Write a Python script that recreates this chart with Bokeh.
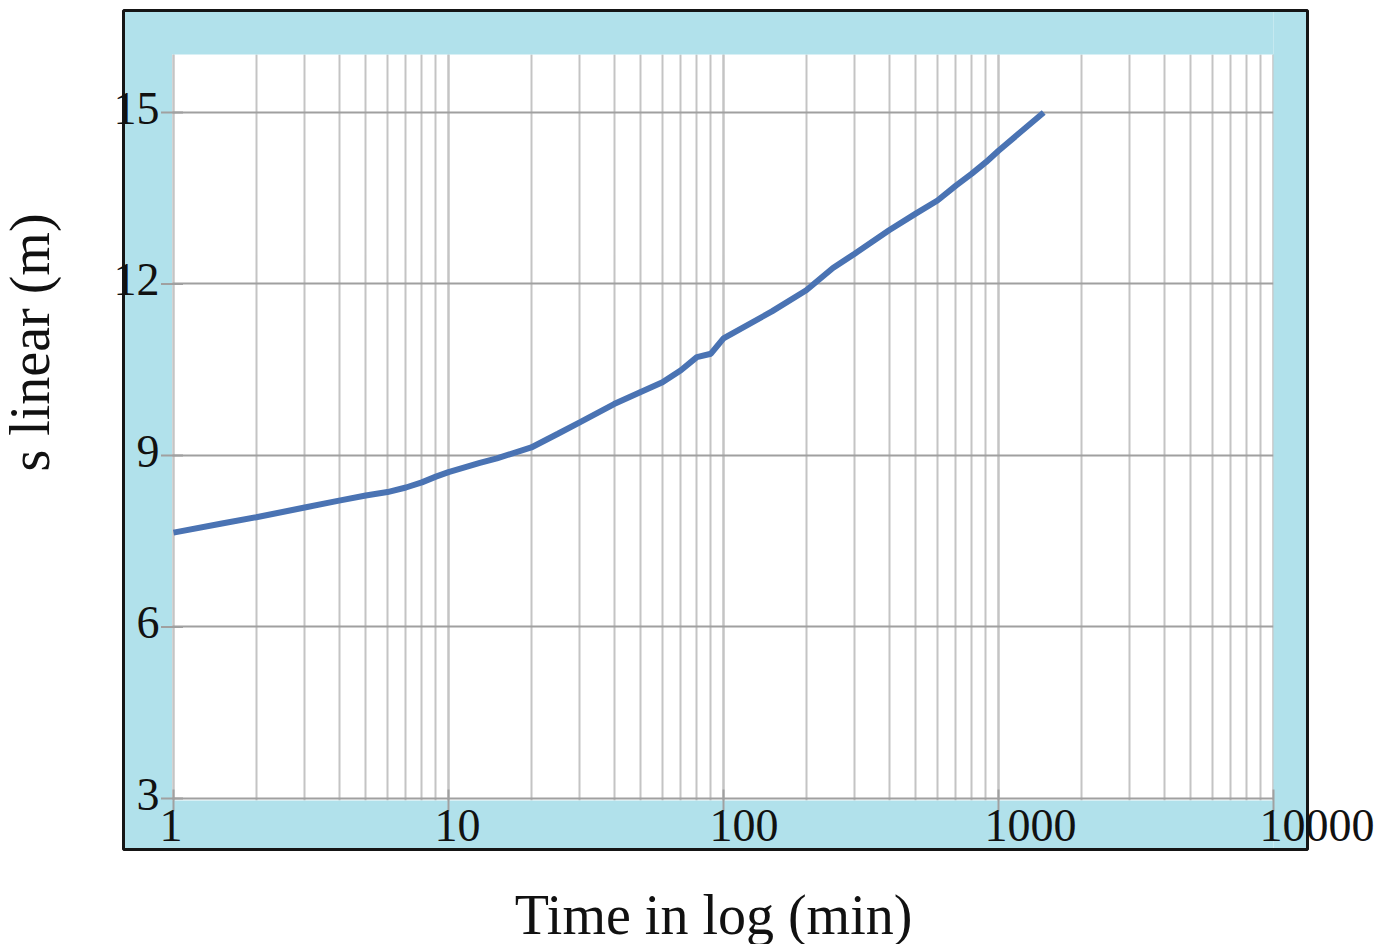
import math
from bokeh.plotting import figure
from bokeh.models import ColumnDataSource, Grid, LogTicker, FixedTicker, Range1d, LogScale
from bokeh.embed import file_html
from bokeh.resources import INLINE
from bokeh.core.properties import value

# ---------------- data ----------------
time_min = [1, 1.5, 2, 3, 4, 5, 6, 7, 8, 9, 10, 13, 15, 20, 25, 30, 40, 50,
            60, 70, 80, 90, 100, 150, 200, 250, 300, 400, 500, 600, 700, 800,
            900, 1000, 1460]
s_linear = [7.65, 7.81, 7.92, 8.09, 8.21, 8.30, 8.36, 8.44, 8.53, 8.63, 8.71,
            8.87, 8.95, 9.14, 9.38, 9.58, 9.90, 10.11, 10.28, 10.49, 10.72,
            10.78, 11.05, 11.52, 11.89, 12.28, 12.53, 12.94, 13.23, 13.46,
            13.72, 13.93, 14.13, 14.33, 15.0]

x_ticks = [1, 10, 100, 1000, 10000]
x_tick_labels = ["1", "10", "100", "1000", "10000"]
y_ticks = [3, 6, 9, 12, 15]
y_tick_labels = ["3", "6", "9", "12", "15"]

x_title = "Time in log (min)"
y_title = "s linear (m)"

# ---------------- layout calibration (canvas pixels) ----------------
PX_X1 = 173.0        # canvas x of t = 1
PX_DECADE = 275.0    # pixels per decade
PX_Y3 = 798.0        # canvas y of s = 3
PX_UNIT = 57.17      # pixels per metre


def xval(px):
    return 10 ** ((px - PX_X1) / PX_DECADE)


def yval(py):
    return 3 + (PX_Y3 - py) / PX_UNIT


W, H = 1394, 944
OUT_L, OUT_R, OUT_T, OUT_B = 123, 1307, 10, 849     # outer (black) frame
IN_L, IN_R, IN_T, IN_B = 171.5, 1273, 54, 800       # inner white area

cx0, cx1 = xval(0), xval(W)
cy0, cy1 = yval(H), yval(0)
# slightly beyond the canvas, so nothing peeks through at the edges
ex0, ex1 = xval(-20), xval(W + 20)
ey0, ey1 = yval(H + 20), yval(-20)
ox0, ox1 = xval(OUT_L), xval(OUT_R)
oy0, oy1 = yval(OUT_B), yval(OUT_T)
ix0, ix1 = xval(IN_L), xval(IN_R)
iy0, iy1 = yval(IN_B), yval(IN_T)

border_blue = "#b1e1eb"
vgrid_col = "#c4c4c4"
hgrid_col = "#a0a0a0"
line_col = "#4a73b3"
text_col = "#111111"
FONT = "Liberation Serif"

p = figure(width=W, height=H, output_backend="svg", toolbar_location=None,
           x_axis_type="log", x_axis_location=None, y_axis_location=None,
           x_range=Range1d(cx0, cx1), y_range=Range1d(cy0, cy1),
           min_border=0)
p.x_scale = LogScale()
p.background_fill_color = "white"
p.border_fill_color = "white"
p.outline_line_color = None

# drop the default grids, use our own
p.center = [r for r in p.center if not isinstance(r, Grid)]
xgrid = Grid(dimension=0, ticker=LogTicker(num_minor_ticks=10),
             grid_line_color=vgrid_col, grid_line_width=2,
             minor_grid_line_color=vgrid_col, minor_grid_line_width=2)
ygrid = Grid(dimension=1, ticker=FixedTicker(ticks=y_ticks),
             grid_line_color=hgrid_col, grid_line_width=2)
if "cross_bounds" in Grid.properties():
    xgrid.cross_bounds = (iy0, iy1)
    ygrid.cross_bounds = (ix0, ix1)
p.add_layout(xgrid)
p.add_layout(ygrid)

# white page outside the framed chart
p.quad(left=[ex0, ox1, ox0, ox0], right=[ox0, ex1, ox1, ox1],
       bottom=[ey0, ey0, ey0, oy1], top=[ey1, ey1, oy0, ey1],
       fill_color="white", line_color=None)

# light blue border between frame and plotting area
p.quad(left=[ox0, ix1, ix0, ix0], right=[ix0, ox1, ix1, ix1],
       bottom=[oy0, oy0, oy0, iy1], top=[oy1, oy1, iy0, oy1],
       fill_color=border_blue, line_color=None)

# black frame
p.quad(left=[ox0], right=[ox1], bottom=[oy0], top=[oy1],
       fill_color=None, line_color="#151515", line_width=3)

# short tick marks entering the border
p.scatter(x=x_ticks, y=[iy0] * len(x_ticks), marker="dash", angle=math.pi / 2,
          size=22, line_color=hgrid_col, line_width=2)
p.scatter(x=[ix0] * len(y_ticks), y=y_ticks, marker="dash",
          size=22, line_color=hgrid_col, line_width=2)

# the curve
p.line(time_min, s_linear, line_color=line_col, line_width=6)

# tick labels
xsrc = ColumnDataSource(dict(x=x_ticks, y=[y_ticks[0]] * len(x_ticks), text=x_tick_labels))
p.text(x="x", y="y", text="text", source=xsrc, x_offset=-14, y_offset=27,
       text_align="left", text_baseline="middle",
       text_font=value(FONT), text_font_size="46px", text_color=text_col)
ysrc = ColumnDataSource(dict(x=[x_ticks[0]] * len(y_ticks), y=y_ticks, text=y_tick_labels))
p.text(x="x", y="y", text="text", source=ysrc, x_offset=-14, y_offset=-4,
       text_align="right", text_baseline="middle",
       text_font=value(FONT), text_font_size="46px", text_color=text_col)

# axis titles
p.text(x=[xval(713)], y=[yval(914)], text=[x_title], text_align="center",
       text_baseline="middle", text_font=value(FONT),
       text_font_size="56px", text_color=text_col)
p.text(x=[xval(29)], y=[yval(342)], text=[y_title], text_align="center",
       text_baseline="middle", angle=math.pi / 2, text_font=value(FONT),
       text_font_size="56px", text_color=text_col)

open("out.html", "w").write(file_html(p, INLINE))
